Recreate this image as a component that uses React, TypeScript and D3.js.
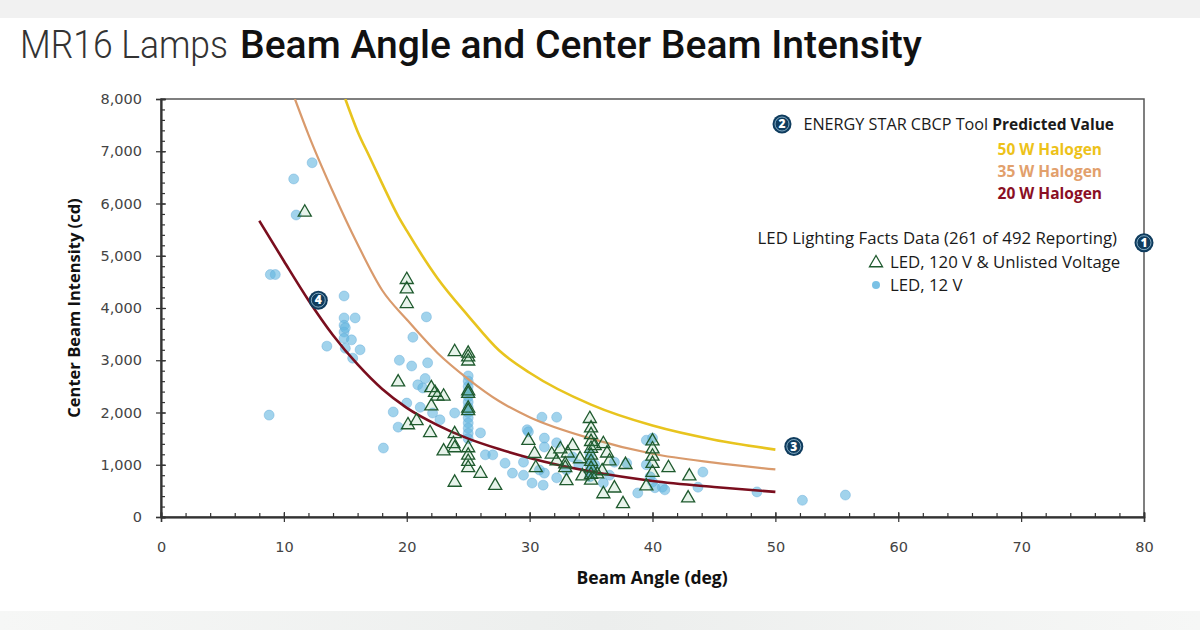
import React, { useEffect, useRef } from 'react';
import * as d3 from 'd3';

// axis ticks
const xTicks = [0, 10, 20, 30, 40, 50, 60, 70, 80];
const yTicks = [0, 1000, 2000, 3000, 4000, 5000, 6000, 7000, 8000];

// ENERGY STAR CBCP tool predicted values [beam angle, cd]
const halogen50 = [
  [15.0, 8000], [16, 7380], [17, 6880], [18, 6380], [19.3, 5760], [20, 5480], [22.5, 4570],
  [25, 3850], [27.5, 3190], [30, 2760], [35, 2150], [40, 1750], [45, 1480], [50, 1290],
];
const halogen35 = [
  [10.9, 8000], [12, 7320], [14, 6220], [16, 5220], [18, 4340], [20, 3780], [22.5, 3140],
  [25, 2640], [27.5, 2220], [30, 1910], [35, 1500], [40, 1210], [45, 1040], [50, 910],
];
const halogen20 = [
  [8, 5670], [10, 4900], [12, 4150], [14, 3480], [16, 2920], [18, 2450], [20, 2090],
  [22.5, 1760], [25, 1500], [27.5, 1300], [30, 1130], [35, 870], [40, 690], [45, 575], [50, 480],
];

// LED Lighting Facts data
const led120 = [
  [11.7, 5850],
  [20.0, 4560], [20.0, 4380], [20.0, 4100],
  [19.3, 2600],
  [23.9, 3180], [25.0, 3150], [25.0, 3080], [25.0, 3000],
  [25.0, 2430], [25.0, 2380], [25.0, 2100], [25.0, 2050],
  [22.0, 2490], [22.5, 2330], [23.0, 2330], [22.0, 2140], [22.3, 2400],
  [20.1, 1780], [20.8, 1860], [21.9, 1630],
  [23.9, 1610], [23.8, 1420], [23.0, 1280], [23.9, 1340],
  [25.0, 1340], [25.0, 1200], [25.0, 1080], [25.0, 960],
  [26.0, 850], [23.9, 680], [27.2, 620],
  [29.9, 1480], [30.4, 1230], [30.5, 960],
  [31.8, 1220], [32.2, 1090], [32.9, 1030], [33.0, 710], [33.1, 1240], [33.5, 1380],
  [34.1, 1130], [32.5, 1320], [32.9, 960], [34.3, 800],
  [34.9, 1900], [35.0, 1720], [35.0, 1590], [35.0, 1460], [35.0, 1330], [35.0, 1200],
  [35.0, 1080], [35.0, 950], [35.0, 830], [35.0, 720],
  [35.3, 1380], [36.0, 1420], [36.3, 1240], [36.5, 1090], [35.9, 900], [35.5, 840],
  [36.0, 460], [36.9, 570], [37.6, 270], [37.8, 1020],
  [40.0, 1470], [40.0, 1320], [40.0, 1180], [40.0, 1040], [40.0, 870], [39.5, 610],
  [41.3, 960], [43.0, 800], [42.9, 380],
];
const led12 = [
  [10.8, 6470], [12.3, 6780], [11.0, 5780],
  [8.9, 4640], [9.3, 4640], [8.8, 1950],
  [14.9, 4230], [14.9, 3810], [15.8, 3810], [14.9, 3670], [14.9, 3540], [14.9, 3420],
  [15.5, 3390], [16.2, 3200], [15.0, 3230], [13.5, 3270], [15.6, 3040], [15.0, 3620],
  [21.6, 3830], [20.5, 3440], [19.4, 3000], [20.4, 2890], [21.7, 2950], [20.9, 2530],
  [21.5, 2650], [21.3, 2470],
  [18.9, 2010], [20.0, 2180], [19.3, 1720], [18.1, 1320], [21.1, 2100], [22.1, 1990],
  [22.7, 1860], [23.9, 1990],
  [25.0, 2700], [25.0, 2600], [25.0, 2500], [25.0, 2400], [25.0, 2300], [25.0, 2200],
  [25.0, 2100], [25.0, 2000], [25.0, 1900], [25.0, 1800], [25.0, 1700], [25.0, 1600], [25.0, 1500],
  [26.0, 1610], [26.4, 1190], [27.0, 1190], [28.0, 1030], [28.6, 840], [29.5, 800],
  [30.2, 650], [29.8, 1670], [29.5, 1050],
  [31.0, 1910], [32.2, 1910], [29.9, 1630], [31.2, 1510], [31.2, 1340], [32.2, 1420],
  [31.1, 610], [31.2, 840], [32.2, 750], [30.8, 900],
  [34.9, 1220], [34.9, 1100], [34.9, 980], [34.9, 870], [34.9, 770], [35.3, 1000],
  [36.0, 650], [36.9, 1050], [37.9, 1030], [38.8, 460], [39.5, 1000], [40.0, 1510],
  [39.5, 1470], [40.0, 670], [40.8, 570], [41.0, 520], [39.8, 770], [40.2, 560],
  [44.1, 860], [43.7, 570], [48.5, 480], [52.2, 320], [55.7, 420],
  [33.5, 1150], [34.0, 1000], [33.0, 900], [36.5, 800],
];

const curveSeries = [
  { name: '50 W Halogen', data: halogen50, color: '#E8C41E', label: '#EDC21A', width: 2.6 },
  { name: '35 W Halogen', data: halogen35, color: '#D99A6C', label: '#E2A06C', width: 2.2 },
  { name: '20 W Halogen', data: halogen20, color: '#7A0E1E', label: '#8A0F24', width: 2.6 },
];

const W = 1200;
const H = 630;
const plot = { left: 161, right: 1144, top: 99, bottom: 517 };
const labelFont = '"DejaVu Sans", sans-serif';
const textFont = '"Open Sans", sans-serif';

export default function App() {
  const ref = useRef<SVGSVGElement>(null);

  useEffect(() => {
    const svg = d3.select(ref.current);
    svg.selectAll('*').remove();

    const x = d3.scaleLinear().domain([0, 80]).range([plot.left, plot.right]);
    const y = d3.scaleLinear().domain([0, 8000]).range([plot.bottom, plot.top]);

    // page bands
    svg.append('rect').attr('width', W).attr('height', H).attr('fill', '#fff');
    svg.append('rect').attr('width', W).attr('height', 18).attr('fill', '#f1f1f1');
    const defs = svg.append('defs');
    const grad = defs.append('linearGradient').attr('id', 'bot');
    grad.append('stop').attr('offset', '0%').attr('stop-color', '#f6f7f6');
    grad.append('stop').attr('offset', '50%').attr('stop-color', '#eceeed');
    grad.append('stop').attr('offset', '100%').attr('stop-color', '#f6f7f6');
    svg.append('rect').attr('y', 611).attr('width', W).attr('height', 19).attr('fill', 'url(#bot)');

    // clip for curves
    defs.append('clipPath').attr('id', 'plotclip')
      .append('rect')
      .attr('x', plot.left).attr('y', plot.top)
      .attr('width', plot.right - plot.left).attr('height', plot.bottom - plot.top);

    // title, two parts fitted to the reference widths
    svg.append('text').attr('x', 20).attr('y', 58)
      .attr('textLength', 208).attr('lengthAdjust', 'spacingAndGlyphs')
      .style('font-family', 'Roboto, sans-serif').style('font-size', '38px').style('font-weight', 300)
      .attr('fill', '#333').text('MR16 Lamps');
    svg.append('text').attr('x', 240).attr('y', 58)
      .attr('textLength', 682).attr('lengthAdjust', 'spacingAndGlyphs')
      .style('font-family', 'Roboto, sans-serif').style('font-size', '38px').style('font-weight', 500)
      .attr('fill', '#111').text('Beam Angle and Center Beam Intensity');

    // frame
    svg.append('rect')
      .attr('x', plot.left).attr('y', plot.top)
      .attr('width', plot.right - plot.left).attr('height', plot.bottom - plot.top)
      .attr('fill', 'none').attr('stroke', '#555').attr('stroke-width', 1.5);

    // x axis
    const xMinor = d3.range(0, 81, 2);
    const gx = svg.append('g').attr('transform', `translate(0,${plot.bottom})`);
    gx.append('g').call(d3.axisBottom(x).tickValues(xMinor).tickSize(-4).tickFormat(() => ''));
    gx.append('g').call(d3.axisBottom(x).tickValues(xTicks).tickSize(-5).tickFormat(() => ''));
    gx.append('g').call(d3.axisBottom(x).tickValues(xTicks).tickSize(5).tickPadding(20).tickFormat(d3.format('d')));
    gx.selectAll('.domain').attr('stroke', '#333').attr('stroke-width', 1.5);
    gx.selectAll('line').attr('stroke', '#333').attr('stroke-width', 1.2);
    gx.selectAll('text').style('font-family', labelFont).style('font-size', '14.5px').attr('fill', '#444');

    // y axis
    const yMinor = d3.range(0, 8001, 200);
    const gy = svg.append('g').attr('transform', `translate(${plot.left},0)`);
    gy.append('g').call(d3.axisLeft(y).tickValues(yMinor).tickSize(-4).tickFormat(() => ''));
    gy.append('g').call(d3.axisLeft(y).tickValues(yTicks).tickSize(-5).tickFormat(() => ''));
    gy.append('g').call(d3.axisLeft(y).tickValues(yTicks).tickSize(5).tickPadding(14).tickFormat(d3.format(',')));
    gy.selectAll('.domain').attr('stroke', '#333').attr('stroke-width', 1.5);
    gy.selectAll('line').attr('stroke', '#333').attr('stroke-width', 1.2);
    gy.selectAll('text').style('font-family', labelFont).style('font-size', '14.5px').attr('fill', '#444');

    // axis titles
    svg.append('text').attr('x', 652).attr('y', 584).attr('text-anchor', 'middle')
      .style('font-family', textFont).style('font-size', '17.5px').style('font-weight', 700)
      .attr('fill', '#111').text('Beam Angle (deg)');
    svg.append('text').attr('transform', 'translate(80,308) rotate(-90)').attr('text-anchor', 'middle')
      .style('font-family', textFont).style('font-size', '16.5px').style('font-weight', 700)
      .attr('fill', '#111').text('Center Beam Intensity (cd)');

    // LED 12 V circles
    svg.append('g').selectAll('circle').data(led12).enter().append('circle')
      .attr('cx', d => x(d[0])).attr('cy', d => y(d[1])).attr('r', 5)
      .attr('fill', '#63b6e0').attr('fill-opacity', 0.6)
      .attr('stroke', '#5fa8d6').attr('stroke-opacity', 0.5).attr('stroke-width', 0.8);

    // halogen curves
    const line = d3.line<number[]>().x(d => x(d[0])).y(d => y(d[1])).curve(d3.curveMonotoneX);
    svg.append('g').attr('clip-path', 'url(#plotclip)').selectAll('path').data(curveSeries).enter().append('path')
      .attr('d', d => line(d.data))
      .attr('fill', 'none').attr('stroke', d => d.color).attr('stroke-width', d => d.width);

    // LED 120 V triangles
    const tri = d3.symbol().type(d3.symbolTriangle).size(74);
    svg.append('g').selectAll('path').data(led120).enter().append('path')
      .attr('d', tri)
      .attr('transform', d => `translate(${x(d[0])},${y(d[1]) + 1})`)
      .attr('fill', '#3d9a5a').attr('fill-opacity', 0.12)
      .attr('stroke', '#1f5a2e').attr('stroke-width', 1.3);

    // badges
    const badge = (cx: number, cy: number, label: string) => {
      const g = svg.append('g').attr('transform', `translate(${cx},${cy})`);
      g.append('circle').attr('r', 9.5).attr('fill', '#0f3c5e');
      g.append('circle').attr('r', 7).attr('fill', 'none').attr('stroke', '#9fc6dd').attr('stroke-width', 0.8);
      g.append('text').attr('text-anchor', 'middle').attr('dy', '0.36em')
        .style('font-family', textFont).style('font-size', '12px').style('font-weight', 800)
        .attr('fill', '#fff').text(label);
    };
    badge(x(80), y(5250), '1');
    badge(x(12.8), y(4150), '4');
    badge(x(51.5), y(1350), '3');
    badge(782, 124, '2');

    // legend
    const leg = svg.append('g').style('font-family', textFont).style('font-size', '15.5px');
    const l1 = leg.append('text').attr('x', 1114).attr('y', 130).attr('text-anchor', 'end').attr('fill', '#1a1a1a');
    l1.append('tspan').style('font-size', '16.2px').text('ENERGY STAR CBCP Tool ');
    l1.append('tspan').style('font-weight', 700).text('Predicted Value');
    curveSeries.forEach((s, i) => {
      leg.append('text').attr('x', 1102).attr('y', 155 + i * 22).attr('text-anchor', 'end')
        .style('font-weight', 700).attr('fill', s.label)
        .text(s.name);
    });
    leg.append('text').attr('x', 1117).attr('y', 244).attr('text-anchor', 'end').attr('fill', '#1a1a1a')
      .style('font-size', '16.8px')
      .text('LED Lighting Facts Data (261 of 492 Reporting)');
    leg.append('path').attr('d', tri).attr('transform', 'translate(876,263)')
      .attr('fill', 'none').attr('stroke', '#1f5a2e').attr('stroke-width', 1.3);
    leg.append('text').attr('x', 890).attr('y', 268).attr('fill', '#1a1a1a')
      .style('font-size', '16.8px').text('LED, 120 V & Unlisted Voltage');
    leg.append('circle').attr('cx', 876).attr('cy', 285).attr('r', 4)
      .attr('fill', '#63b6e0').attr('fill-opacity', 0.85);
    leg.append('text').attr('x', 890).attr('y', 291).attr('fill', '#1a1a1a')
      .style('font-size', '16.8px').text('LED, 12 V');
  }, []);

  return (
    <svg ref={ref} width={W} height={H} style={{ position: 'absolute', left: 0, top: 0, display: 'block' }} />
  );
}
